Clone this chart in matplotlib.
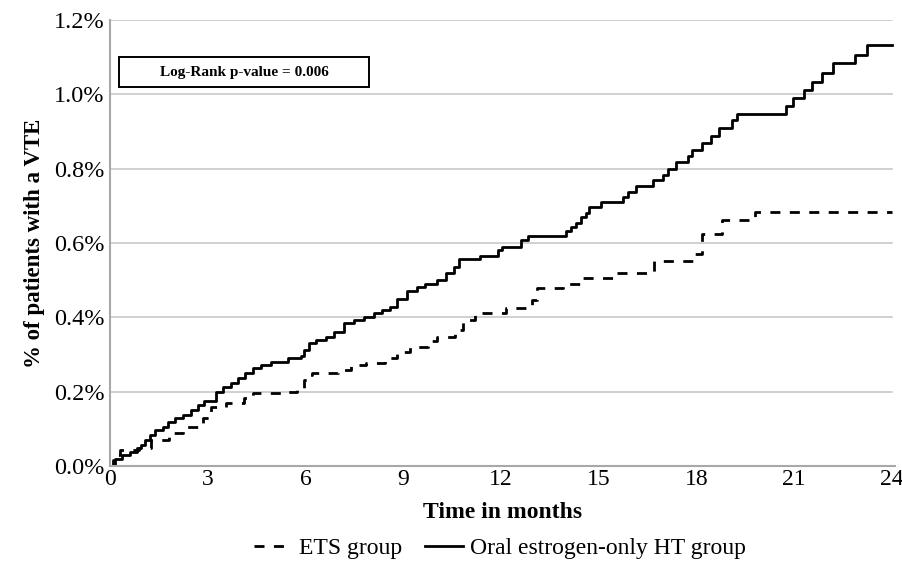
import matplotlib
matplotlib.use("Agg")
import matplotlib.pyplot as plt
from matplotlib.patches import Rectangle

# Oral estrogen-only HT group (solid) : months, cumulative % with VTE
oral_t = [0, 0.15, 0.36, 0.61, 0.82, 0.95, 1.07, 1.22, 1.38, 1.63, 1.78, 1.99, 2.24, 2.5, 2.7,
          2.9, 3.26, 3.46, 3.72, 3.92, 4.13, 4.38, 4.64, 4.94, 5.45, 5.85, 5.96, 6.1, 6.32, 6.62,
          6.88, 7.18, 7.49, 7.8, 8.1, 8.35, 8.61, 8.81, 9.11, 9.42, 9.68, 10.03, 10.33, 10.55,
          10.7, 11.35, 11.92, 12.02, 12.63, 12.84, 14.0, 14.15, 14.31, 14.46, 14.61, 14.72,
          15.08, 15.74, 15.9, 16.14, 16.66, 16.97, 17.12, 17.37, 17.73, 17.88, 18.16, 18.44,
          18.7, 19.1, 19.24, 20.74, 20.97, 21.3, 21.55, 21.86, 22.21, 22.87, 23.24, 24.0]
oral_v = [0, 0.02, 0.03, 0.038, 0.048, 0.056, 0.07, 0.083, 0.097, 0.106, 0.119, 0.128, 0.137,
          0.151, 0.164, 0.176, 0.200, 0.213, 0.222, 0.236, 0.249, 0.263, 0.272, 0.281, 0.290,
          0.297, 0.312, 0.330, 0.339, 0.348, 0.361, 0.384, 0.393, 0.400, 0.411, 0.420, 0.429,
          0.449, 0.472, 0.481, 0.490, 0.500, 0.518, 0.536, 0.556, 0.565, 0.581, 0.588, 0.608,
          0.619, 0.631, 0.642, 0.655, 0.669, 0.682, 0.696, 0.711, 0.725, 0.738, 0.753, 0.770,
          0.783, 0.798, 0.819, 0.835, 0.850, 0.868, 0.888, 0.909, 0.931, 0.946, 0.969, 0.989,
          1.012, 1.034, 1.058, 1.083, 1.106, 1.133, 1.133]

# ETS group (dashed)
ets_t = [0, 0.1, 0.25, 0.3, 0.9, 1.25, 1.8, 2.25, 2.85, 3.1, 3.55, 4.1, 4.4, 5.3, 5.75, 5.95,
         6.1, 6.2, 7.0, 7.4, 7.85, 8.45, 8.8, 9.2, 9.75, 10.05, 10.6, 10.85, 11.2, 12.15, 12.95,
         13.1, 13.9, 14.5, 15.5, 16.7, 17.9, 18.16, 18.8, 19.8, 24.0]
ets_v = [0, 0.015, 0.03, 0.043, 0.048, 0.07, 0.088, 0.106, 0.128, 0.16, 0.17, 0.182, 0.197,
         0.200, 0.209, 0.231, 0.245, 0.251, 0.258, 0.272, 0.276, 0.290, 0.308, 0.321, 0.335,
         0.348, 0.366, 0.393, 0.413, 0.424, 0.447, 0.478, 0.490, 0.505, 0.518, 0.552, 0.570,
         0.624, 0.662, 0.684, 0.684]

x_ticks = [0, 3, 6, 9, 12, 15, 18, 21, 24]
y_ticks = [0.0, 0.2, 0.4, 0.6, 0.8, 1.0, 1.2]

plt.rcParams['font.family'] = ['Liberation Serif', 'DejaVu Serif']

W, H = 902, 561
fig = plt.figure(figsize=(W/100, H/100), dpi=100)
ax = fig.add_axes([110/W, 1-466/H, 785/W, 446/H])

ax.plot(ets_t, ets_v, drawstyle='steps-post', color='black', lw=2.0,
        linestyle=(0, (3.6, 3.4)), label='ETS group')
ax.plot(oral_t, oral_v, drawstyle='steps-post', color='black', lw=2.0,
        label='Oral estrogen-only HT group')

ax.set_xlim(0, 24.1)
ax.set_ylim(0, 1.2)
ax.set_xticks(x_ticks)
ax.set_xticklabels([str(t) for t in x_ticks], fontsize=17)
ax.set_yticks(y_ticks)
ax.set_yticklabels([f"{v:.1f}%" for v in y_ticks], fontsize=17.5)
ax.tick_params(length=0, pad=2)
ax.tick_params(axis='y', pad=4)

for y in y_ticks[1:]:
    ax.axhline(y, color='#c8c8c8', lw=1.2, zorder=0, xmax=(24/24.1))

for s in ['top', 'right']:
    ax.spines[s].set_visible(False)
for s in ['left', 'bottom']:
    ax.spines[s].set_color('#a8a8a8')
    ax.spines[s].set_linewidth(1.5)

ax.set_xlabel('Time in months', fontsize=17, fontweight='bold', labelpad=9)
ax.set_ylabel('% of patients with a VTE', fontsize=16.5, fontweight='bold', labelpad=6)

# p-value box
fig.patches.append(Rectangle((119/W, 1-87/H), 250/W, 30/H, transform=fig.transFigure,
                             facecolor='white', edgecolor='black', lw=1.4, zorder=5))
fig.text(244/W, 1-72/H, 'Log-Rank p-value = 0.006', ha='center', va='center',
         fontsize=11, fontweight='bold', zorder=6)

fig.legend(loc='center', bbox_to_anchor=(500/W, 1-548/H), ncol=2, frameon=False,
           fontsize=17, handlelength=1.6, columnspacing=1.0, handletextpad=0.3)

fig.savefig('out.png', dpi=100)
